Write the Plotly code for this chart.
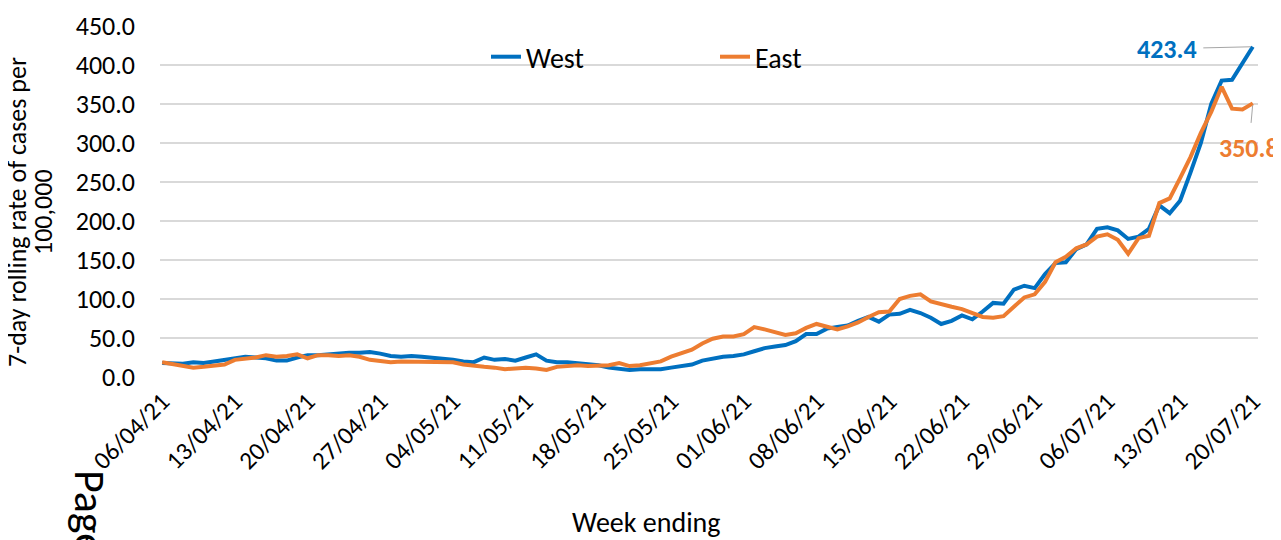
import pandas as pd
import plotly.graph_objects as go

start_date = "2021-04-06"
end_date = "2021-07-20"
dates = pd.date_range(start_date, end_date, freq="D")

west = [18, 17, 17, 19, 18, 20, 22, 23, 26, 25,
        24, 21, 21, 25, 28, 28, 29, 31, 31, 31,
        32, 30, 27, 26, 27, 26, 25, 23, 22, 20,
        19, 25, 22, 23, 21, 25, 29, 21, 19, 19,
        18, 17, 15, 12, 10, 9, 10, 10, 10, 12,
        14, 16, 21, 24, 26, 27, 29, 33, 37, 39,
        41, 46, 55, 55, 62, 64, 66, 72, 77, 71,
        80, 81, 86, 82, 76, 68, 72, 79, 74, 84,
        95, 94, 112, 117, 114, 132, 146, 147, 164, 170,
        190, 192, 188, 177, 180, 190, 220, 210, 226, 262,
        300, 350, 380, 381, 402, 423.4]

east = [19, 17, 15, 12, 13, 14, 16, 22, 23, 25,
        28, 26, 27, 29, 24, 28, 28, 27, 28, 26,
        22, 21, 19, 20, 20, 20, 20, 20, 19, 16,
        14, 13, 12, 10, 11, 12, 11, 9, 13, 14,
        15, 14, 14, 15, 18, 14, 15, 17, 20, 26,
        30, 35, 43, 49, 52, 52, 55, 64, 61, 57,
        54, 56, 63, 68, 65, 61, 65, 70, 77, 83,
        84, 100, 104, 106, 97, 93, 90, 87, 82, 77,
        76, 78, 90, 102, 106, 122, 147, 154, 165, 170,
        180, 183, 176, 158, 178, 181, 223, 229, 255, 282,
        313, 340, 372, 344, 343, 350.8]

series_names = ["West", "East"]
series_colors = ["#0070C0", "#ED7D31"]
y_ticks = [0, 50, 100, 150, 200, 250, 300, 350, 400, 450]
y_title_lines = ["7-day rolling rate of cases per", "100,000"]
x_title = "Week ending"

FONT = "Calibri, Carlito, Lato, sans-serif"

# page has an 8px default body margin; compensate so the plot area lands at
# x 160..1258, y 26..377 in the window
OFF = 8
ML, MT, MR, MB = 160 - OFF, 26 - OFF, 23 + OFF, 163 + OFF
PW, PH = 1281 - ML - MR, 540 - MT - MB


def px_x(x):
    return (x - OFF - ML) / PW


def px_y(y):
    return (540 - MB - (y - OFF)) / PH


fig = go.Figure()
for name, vals, col in zip(series_names, [west, east], series_colors):
    fig.add_trace(go.Scatter(x=dates, y=vals, mode="lines", name=name,
                             line=dict(color=col, width=4)))

# end labels
fig.add_annotation(x=dates[-1], y=west[-1], text="<b>%.1f</b>" % west[-1],
                   showarrow=True, arrowhead=0, arrowwidth=1, arrowcolor="#A6A6A6",
                   ax=-86, ay=2, borderpad=6, standoff=2,
                   font=dict(family=FONT, size=26, color=series_colors[0]))
fig.add_annotation(x=dates[-1], y=east[-1], text="<b>%.1f</b>" % east[-1],
                   showarrow=True, arrowhead=0, arrowwidth=1, arrowcolor="#A6A6A6",
                   ax=-4, ay=45, borderpad=9, standoff=2,
                   font=dict(family=FONT, size=26, color=series_colors[1]))

# axis titles
fig.add_annotation(xref="paper", yref="paper", x=px_x(646), y=px_y(522),
                   text=x_title, showarrow=False,
                   xanchor="center", yanchor="middle",
                   font=dict(family=FONT, size=28, color="#000000"))
for line, cx in zip(y_title_lines, [17, 43]):
    fig.add_annotation(xref="paper", yref="paper", x=px_x(cx), y=px_y(212),
                       text=line, showarrow=False, textangle=-90,
                       xanchor="center", yanchor="middle",
                       font=dict(family=FONT, size=26, color="#000000"))

# stray rotated page text
fig.add_annotation(xref="paper", yref="paper", x=px_x(90), y=px_y(512),
                   text="Page", showarrow=False, textangle=90,
                   xanchor="center", yanchor="middle",
                   font=dict(family=FONT, size=44, color="#000000"))

fig.update_layout(
    width=1281, height=540,
    margin=dict(l=ML, r=MR, t=MT, b=MB, autoexpand=False),
    paper_bgcolor="white", plot_bgcolor="white",
    font=dict(family=FONT, size=25, color="#000000"),
    showlegend=True,
    legend=dict(orientation="h", x=px_x(486), y=px_y(57), xanchor="left", yanchor="middle",
                bgcolor="rgba(0,0,0,0)", font=dict(size=28), entrywidth=184,
                entrywidthmode="pixels", traceorder="normal"),
    xaxis=dict(type="date", range=["2021-04-05 19:00", "2021-07-20 12:00"],
               tick0=start_date, dtick=7 * 24 * 3600 * 1000, tickformat="%d/%m/%y",
               tickangle=-45, showgrid=False, zeroline=False, showline=False,
               ticks="", tickfont=dict(size=25), automargin=False,
               ticklabelstandoff=4),
    yaxis=dict(range=[0, 450], tickvals=y_ticks, tickformat=".1f",
               showgrid=True, gridcolor="#D9D9D9", gridwidth=1.5,
               zeroline=False, showline=False, ticks="", tickfont=dict(size=26),
               automargin=False, ticklabelstandoff=24),
)

fig.write_html("out.html")
